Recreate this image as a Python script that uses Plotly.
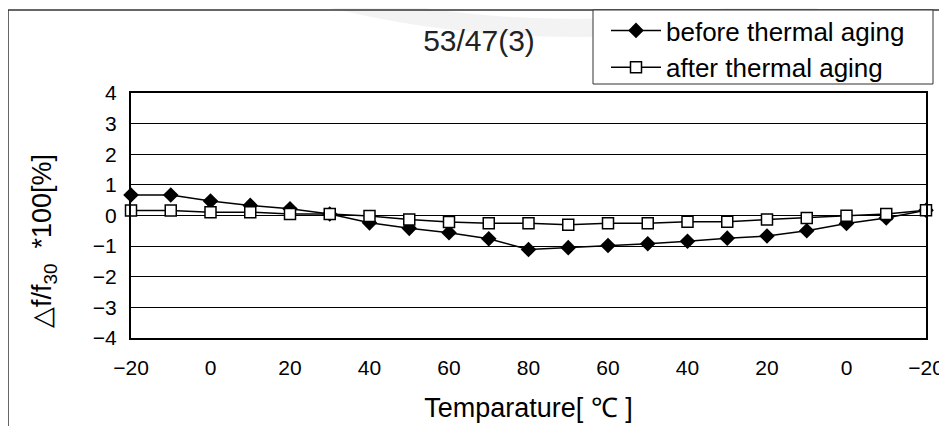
import plotly.graph_objects as go

# Data
temps = [-20, -10, 0, 10, 20, 30, 40, 50, 60, 70, 80, 70, 60, 50, 40, 30, 20, 10, 0, -10, -20]
before_aging = [0.67, 0.67, 0.47, 0.33, 0.22, 0.05, -0.24, -0.42, -0.56, -0.76, -1.11,
                -1.05, -0.98, -0.92, -0.84, -0.74, -0.67, -0.50, -0.26, -0.08, 0.17]
after_aging = [0.16, 0.16, 0.11, 0.11, 0.05, 0.05, -0.02, -0.13, -0.21, -0.25, -0.25,
               -0.30, -0.25, -0.25, -0.20, -0.20, -0.13, -0.08, -0.01, 0.05, 0.17]
y_ticks = [-4, -3, -2, -1, 0, 1, 2, 3, 4]
series_names = ["before thermal aging", "after thermal aging"]
title_text = "53/47(3)"
x_title = "Temparature[ ℃ ]"
y_title = "△f/f<sub>30</sub>  *100[%]"


def fmt(v):
    return ("−" + str(abs(v))) if v < 0 else str(v)


steps = list(range(len(temps)))
x_tickvals = steps[::2]
x_ticktext = [fmt(t) for t in temps[::2]]

# page offset (html body margin) compensation
OFF = 8
W, H = 947, 426
# desired plot area on screen: x 131..926, y 93..338
L = 131 - OFF
T = 93 - OFF
R = W - (926 - OFF)
B = H - (338 - OFF)
pw, ph = W - L - R, H - T - B


def px(x):  # screen x -> paper
    return (x - OFF - L) / pw


def py(y):  # screen y -> paper
    return (H - B - (y - OFF)) / ph


FONT = "Liberation Sans, Arial, sans-serif"

fig = go.Figure()
fig.add_trace(go.Scatter(
    x=steps, y=before_aging, name=series_names[0], mode="lines+markers",
    line=dict(color="black", width=1.5),
    marker=dict(symbol="diamond", size=12, color="black"),
    cliponaxis=False,
))
fig.add_trace(go.Scatter(
    x=steps, y=after_aging, name=series_names[1], mode="lines+markers",
    line=dict(color="black", width=1.5),
    marker=dict(symbol="square", size=11, color="white", line=dict(color="black", width=1.5)),
    cliponaxis=False,
))

shapes = [
    # faint watermark ring
    dict(type="circle", xref="paper", yref="paper",
         x0=px(575 - 1030), x1=px(575 + 1030), y0=py(28), y1=py(-2032),
         line=dict(color="#f3f3f3", width=18), layer="below"),
    # outer frame (left & top)
    dict(type="line", xref="paper", yref="paper", x0=px(8), x1=px(8), y0=py(10), y1=py(440),
         line=dict(color="#333333", width=1.5)),
    dict(type="line", xref="paper", yref="paper", x0=px(8), x1=px(960), y0=py(10), y1=py(10),
         line=dict(color="#333333", width=1.5)),
    # legend box
    dict(type="rect", xref="paper", yref="paper", x0=px(593), x1=px(933), y0=py(84), y1=py(10),
         line=dict(color="#333333", width=1), fillcolor="white", layer="above"),
]

fig.update_layout(
    width=W, height=H,
    margin=dict(l=L, r=R, t=T, b=B, autoexpand=False),
    paper_bgcolor="white", plot_bgcolor="white",
    font=dict(family=FONT, color="black"),
    showlegend=True,
    legend=dict(x=px(606), y=py(7), xanchor="left", yanchor="top",
                bgcolor="rgba(0,0,0,0)", borderwidth=0,
                font=dict(size=26, family=FONT, color="black"),
                tracegroupgap=0, itemwidth=50),
    title=dict(text=title_text, x=(479 - OFF) / W, y=1 - (40 - OFF) / H,
               xanchor="center", yanchor="middle",
               font=dict(size=30, family=FONT, color="#222222")),
    shapes=shapes,
    annotations=[
        dict(text=y_title, textangle=-90, xref="paper", yref="paper",
             x=px(44), y=py(241), xanchor="center", yanchor="middle", showarrow=False,
             font=dict(size=27, family=FONT, color="black")),
    ],
)

fig.update_xaxes(
    range=[0, len(temps) - 1], tickmode="array", tickvals=x_tickvals, ticktext=x_ticktext,
    showgrid=False, zeroline=False, showline=True, linecolor="black", linewidth=2, mirror=True,
    tickfont=dict(size=21, family=FONT), ticklabelstandoff=10, automargin=False,
    title=dict(text=x_title, font=dict(size=27, family=FONT), standoff=20),
)
fig.update_yaxes(
    range=[-4, 4], tickmode="array", tickvals=y_ticks, ticktext=[fmt(v) for v in y_ticks],
    showgrid=True, gridcolor="black", gridwidth=1, zeroline=False,
    showline=True, linecolor="black", linewidth=2, mirror=True,
    tickfont=dict(size=21, family=FONT), ticklabelstandoff=8, automargin=False,
)

fig.write_html("out.html")
